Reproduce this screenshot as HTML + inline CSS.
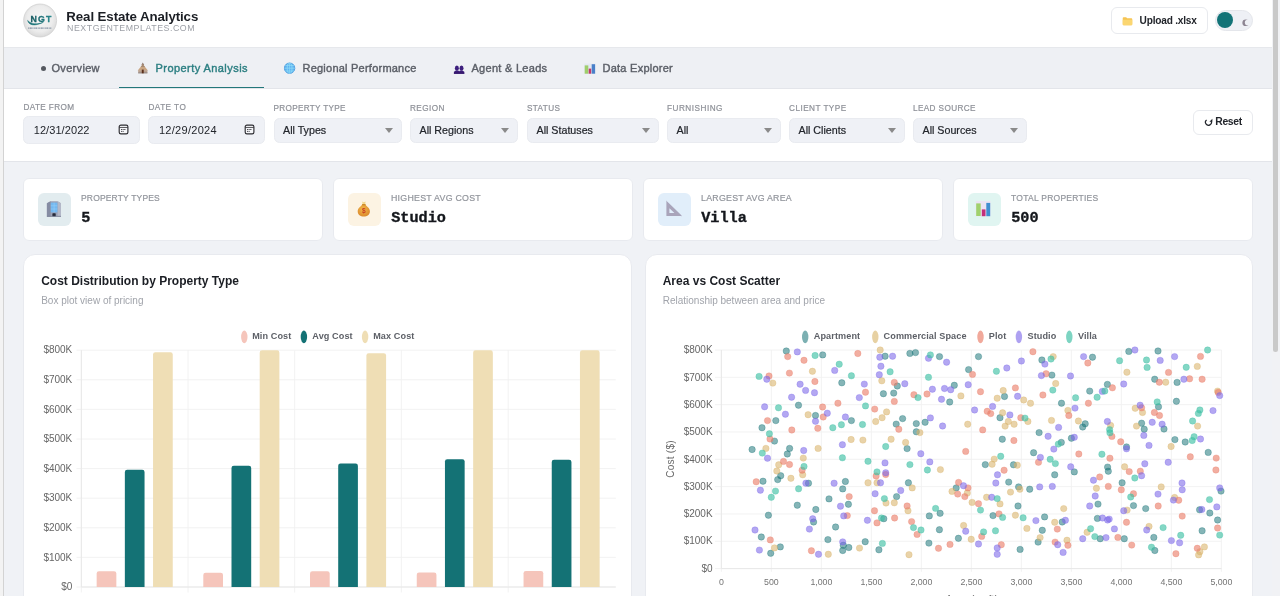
<!DOCTYPE html>
<html lang="en">
<head>
<meta charset="utf-8">
<title>Real Estate Analytics</title>
<style>
*{box-sizing:border-box;margin:0;padding:0}
html,body{width:1280px;height:596px;overflow:hidden}
body{font-family:"Liberation Sans",sans-serif;background:#f0f2f6;position:relative;color:#1b1e24}
#wrap{position:absolute;left:0;top:0;width:1280px;height:596px;overflow:hidden;will-change:transform;transform:translateZ(0)}
.abs{position:absolute}
#leftstrip{left:0;top:0;width:4px;height:596px;background:#f3f3f3;border-right:1px solid #d3d3d3}
#sb{left:1272px;top:0;width:8px;height:596px;background:#f1f2f5}
#sbthumb{left:1273px;top:-4px;width:4.5px;height:356px;background:#c9c9c9;border-radius:3px}
#header{left:4px;top:0;width:1268px;height:47.8px;background:#fff;border-bottom:1px solid #e6e8ec}
#nav{left:4px;top:47.8px;width:1268px;height:41.2px;background:#eef0f4;border-bottom:1px solid #e3e5ea}
#filters{left:4px;top:89px;width:1268px;height:72.6px;background:#fff;border-bottom:1px solid #e3e5ea}
.t{position:absolute;white-space:nowrap;line-height:1}
.title{left:66.3px;top:9.5px;font-size:13.3px;font-weight:bold;color:#1b1e24;letter-spacing:-0.1px}
.sub{left:67px;top:24.4px;font-size:8.8px;letter-spacing:0.55px;color:#9c9fa6}
.tab{font-size:11px;color:#5b5f67;-webkit-text-stroke:0.4px #5b5f67}
.tab.act{color:#2c7f82;-webkit-text-stroke:0.4px #2c7f82}
.lbl{font-size:8.2px;letter-spacing:0.52px;color:#8f9299;-webkit-text-stroke:0.2px #8f9299;margin-top:0.5px}
.inp{position:absolute;top:116.1px;height:27.9px;background:#eff1f6;border:1px solid #e9ebf0;border-radius:5.5px}
.inp span{position:absolute;left:9px;top:7.5px;font-size:10.7px;-webkit-text-stroke:0.2px #22252b;line-height:1;color:#22252b;white-space:nowrap}
.caret{position:absolute;right:8px;top:11px;width:0;height:0;border-left:4.5px solid transparent;border-right:4.5px solid transparent;border-top:5.5px solid #8a8a8a}
.kpi{position:absolute;top:177.9px;height:63.5px;background:#fff;border:1px solid #e8eaef;border-radius:6px}
.kico{position:absolute;left:13.8px;top:14.3px;width:33px;height:33px;border-radius:6px}
.klbl{position:absolute;left:56.8px;top:15px;font-size:8.8px;letter-spacing:0.36px;color:#92959c;line-height:1;white-space:nowrap;-webkit-text-stroke:0.2px #92959c}
.kval{position:absolute;left:57px;top:32px;transform:scaleY(1.02);transform-origin:0 50%;font-family:"Liberation Mono",monospace;font-weight:bold;font-size:15.2px;line-height:1;color:#14171c;white-space:nowrap;-webkit-text-stroke:0.35px #14171c}
.card{position:absolute;top:254.3px;height:360px;background:#fff;border:1px solid #e8eaef;border-radius:12px}
.ctitle{position:absolute;left:17px;top:19.3px;font-size:12px;font-weight:bold;line-height:1;color:#1b1e24;white-space:nowrap}
.csub{position:absolute;left:17px;top:41px;font-size:10px;line-height:1;color:#a1a4ab;white-space:nowrap}
svg text{font-family:"Liberation Sans",sans-serif}
</style>
</head>
<body>
<div id="wrap">
<div id="header" class="abs"></div>
<div id="nav" class="abs"></div>
<div id="filters" class="abs"></div>
<div id="leftstrip" class="abs"></div>
<div id="sb" class="abs"></div>
<div id="sbthumb" class="abs"></div>

<!-- HEADER -->
<svg class="abs" style="left:22px;top:2px" width="36" height="38" viewBox="0 0 36 38">
  <defs><radialGradient id="lg" cx="50%" cy="45%" r="55%"><stop offset="0" stop-color="#f6f6f6"/><stop offset="0.7" stop-color="#ececec"/><stop offset="1" stop-color="#d9d9d9"/></radialGradient>
  <linearGradient id="ng" x1="0" x2="1"><stop offset="0" stop-color="#15595f"/><stop offset="1" stop-color="#2a8b90"/></linearGradient></defs>
  <circle cx="18.1" cy="18.5" r="16.5" fill="url(#lg)" stroke="#cdcdcd" stroke-width="0.7"/>
  <text x="8.5" y="20.1" font-size="8.8" font-weight="bold" fill="url(#ng)" stroke="url(#ng)" stroke-width="0.3" letter-spacing="1.15">NGT</text>
  <path d="M5.6 18.4 C6.4 23 12.5 24.8 21.3 20.3 C15 22.6 9 22.4 5.6 18.4Z" fill="#1b7479" stroke="#1b7479" stroke-width="0.5"/>
  <path d="M6.2 26.2 H29.4" stroke="#3d5572" stroke-width="1.3" stroke-dasharray="1.1 0.5 2 0.6 0.8 0.5" opacity="0.6"/>
</svg>
<div class="t title">Real Estate Analytics</div>
<div class="t sub">NEXTGENTEMPLATES.COM</div>

<div class="abs" style="left:1110.5px;top:7.4px;width:97px;height:27.1px;border:1px solid #e8eaee;border-radius:6px;background:#fff"></div>
<svg class="abs" style="left:1121.5px;top:15.8px" width="11.2" height="10.3" viewBox="0 0 12 11"><path d="M0.8 2.2 Q0.8 1.2 1.8 1.2 H4.4 L5.6 2.5 H10 Q11 2.5 11 3.5 V8.8 Q11 9.8 10 9.8 H1.8 Q0.8 9.8 0.8 8.8Z" fill="#f6c453"/><path d="M0.8 4 H11 V8.8 Q11 9.8 10 9.8 H1.8 Q0.8 9.8 0.8 8.8Z" fill="#fbd671"/></svg>
<div class="t" style="left:1139.6px;top:15.6px;font-size:10.1px;font-weight:bold;color:#22252b;letter-spacing:-0.2px">Upload .xlsx</div>
<div class="abs" style="left:1214.5px;top:9.8px;width:38.3px;height:21.5px;border-radius:11px;background:#eef0f5;border:1px solid #e4e6eb"></div>
<div class="abs" style="left:1216.7px;top:11.8px;width:16.7px;height:16.7px;border-radius:50%;background:#127377"></div>
<svg class="abs" style="left:1240px;top:17px" width="12" height="12" viewBox="0 0 12 12"><circle cx="5.7" cy="5.75" r="3.35" fill="#8d8592"/><circle cx="7.7" cy="5.6" r="2.85" fill="#eef0f5"/></svg>

<!-- NAV -->
<div class="abs" style="left:40.8px;top:65.5px;width:5px;height:5px;border-radius:50%;background:#555960"></div>
<div class="t tab" style="left:51.5px;top:62.6px;letter-spacing:0.31px">Overview</div>
<div class="t tab act" style="left:155.5px;top:62.6px;letter-spacing:0.44px">Property Analysis</div>
<div class="t tab" style="left:302.5px;top:62.6px;letter-spacing:0.23px">Regional Performance</div>
<div class="t tab" style="left:471.5px;top:62.6px;letter-spacing:0.28px">Agent &amp; Leads</div>
<div class="t tab" style="left:602.5px;top:62.6px;letter-spacing:0.25px">Data Explorer</div>
<div class="abs" style="left:118.8px;top:86.6px;width:145.2px;height:1.6px;background:#22777a"></div>

<!-- FILTERS -->
<div class="t lbl" style="left:23.5px;top:103.5px;letter-spacing:0.36px">DATE FROM</div>
<div class="t lbl" style="left:148.5px;top:103.5px;letter-spacing:0.45px">DATE TO</div>
<div class="t lbl" style="left:273.5px;top:104.5px;letter-spacing:0.31px">PROPERTY TYPE</div>
<div class="t lbl" style="left:410px;top:104.5px;letter-spacing:0.44px">REGION</div>
<div class="t lbl" style="left:527px;top:104.5px;letter-spacing:0.38px">STATUS</div>
<div class="t lbl" style="left:667px;top:104.5px;letter-spacing:0.5px">FURNISHING</div>
<div class="t lbl" style="left:789px;top:104.5px;letter-spacing:0.47px">CLIENT TYPE</div>
<div class="t lbl" style="left:913px;top:104.5px;letter-spacing:0.38px">LEAD SOURCE</div>

<div class="inp" style="left:23.2px;width:116.8px"><span style="left:9.5px;letter-spacing:0.08px;font-size:11px;-webkit-text-stroke:0">12/31/2022</span></div>
<div class="inp" style="left:148.4px;width:116.8px"><span style="left:9.5px;letter-spacing:0.3px;font-size:11px;-webkit-text-stroke:0">12/29/2024</span></div>
<div class="inp" style="left:273.5px;top:117.8px;width:128px;height:24.9px"><span style="top:6.1px;left:8.5px">All Types</span><i class="caret" style="top:9.6px"></i></div>
<div class="inp" style="left:410px;top:117.8px;width:108px;height:24.9px"><span style="top:6.1px;left:8.5px">All Regions</span><i class="caret" style="top:9.6px"></i></div>
<div class="inp" style="left:527px;top:117.8px;width:132px;height:24.9px"><span style="top:6.1px;left:8.5px">All Statuses</span><i class="caret" style="top:9.6px"></i></div>
<div class="inp" style="left:667px;top:117.8px;width:113.5px;height:24.9px"><span style="top:6.1px;left:8.5px">All</span><i class="caret" style="top:9.6px"></i></div>
<div class="inp" style="left:789px;top:117.8px;width:116px;height:24.9px"><span style="top:6.1px;left:8.5px">All Clients</span><i class="caret" style="top:9.6px"></i></div>
<div class="inp" style="left:913px;top:117.8px;width:114px;height:24.9px"><span style="top:6.1px;left:8.5px">All Sources</span><i class="caret" style="top:9.6px"></i></div>

<div class="abs" style="left:1193px;top:110px;width:59.5px;height:24.5px;border:1px solid #e8eaee;border-radius:6px;background:#fff"></div>
<svg class="abs" style="left:1204px;top:118px" width="10" height="9" viewBox="0 0 10 9"><path d="M2.6 1.9 A3 3 0 1 0 7.2 3" fill="none" stroke="#22252b" stroke-width="1.25"/><path d="M8.4 0.8 V3.7 H5.4Z" fill="#22252b"/></svg>
<div class="t" style="left:1215.2px;top:116.7px;font-size:10.4px;font-weight:bold;color:#22252b;letter-spacing:-0.3px">Reset</div>

<!-- KPI -->
<div class="kpi" style="left:23.2px;width:299.8px"><div class="kico" style="background:#e2ecef"></div><div class="klbl" style="font-size:8.5px;letter-spacing:0.17px;top:15.2px">PROPERTY TYPES</div><div class="kval">5</div></div>
<div class="kpi" style="left:333.2px;width:299.8px"><div class="kico" style="background:#fcf3e3"></div><div class="klbl" style="letter-spacing:0.27px">HIGHEST AVG COST</div><div class="kval">Studio</div></div>
<div class="kpi" style="left:643.2px;width:299.8px"><div class="kico" style="background:#e1eefa"></div><div class="klbl" style="letter-spacing:0.27px">LARGEST AVG AREA</div><div class="kval">Villa</div></div>
<div class="kpi" style="left:953.2px;width:299.8px"><div class="kico" style="background:#e0f5f1"></div><div class="klbl" style="font-size:8.5px;letter-spacing:0.26px;top:15.2px">TOTAL PROPERTIES</div><div class="kval">500</div></div>

<!-- CARDS -->
<div class="card" style="left:23.2px;width:608.7px"><div class="ctitle">Cost Distribution by Property Type</div><div class="csub">Box plot view of pricing</div></div>
<div class="card" style="left:644.7px;width:608.4px"><div class="ctitle">Area vs Cost Scatter</div><div class="csub">Relationship between area and price</div></div>


<!-- NAV ICONS -->
<svg class="abs" style="left:137px;top:62px" width="12" height="12" viewBox="0 0 12 12">
  <path d="M5.8 0.6 L7.2 3 L4.4 3Z" fill="#8b7468"/>
  <path d="M5.8 2.2 L10.9 8.6 L0.7 8.6Z" fill="#c9a582"/>
  <path d="M5.8 2.2 L8 5 L3.6 5Z" fill="#a58970"/>
  <rect x="1.2" y="8.2" width="9.2" height="3.1" fill="#b9a08e"/>
  <rect x="1.2" y="10.4" width="9.2" height="0.9" fill="#8f8a8c"/>
  <rect x="4.8" y="7.6" width="1.9" height="3.7" fill="#5b2f1c"/>
</svg>
<svg class="abs" style="left:283px;top:62.2px" width="13" height="13" viewBox="0 0 13 13">
  <circle cx="6.6" cy="6.2" r="5.5" fill="#5fb3f2"/>
  <circle cx="6.6" cy="6.2" r="5.2" fill="none" stroke="#4b93d6" stroke-width="0.7"/>
  <ellipse cx="6.6" cy="6.2" rx="2.4" ry="5.2" fill="none" stroke="#93e0f6" stroke-width="0.7"/>
  <path d="M1.3 6.2 H11.9 M2.2 3.4 H11 M2.2 9 H11" stroke="#93e0f6" stroke-width="0.7" fill="none"/>
  <path d="M6.6 1 V11.4" stroke="#93e0f6" stroke-width="0.6"/>
</svg>
<svg class="abs" style="left:453px;top:64px" width="12" height="11" viewBox="0 0 12 11">
  <ellipse cx="3.9" cy="4.2" rx="2" ry="2.6" fill="#3d1f7d"/><ellipse cx="8.5" cy="4.2" rx="2" ry="2.6" fill="#3d1f7d"/>
  <path d="M0.9 9.8 Q0.9 6.4 3.9 6.4 Q6.2 6.4 6.2 7.6 Q6.2 6.4 8.5 6.4 Q11.3 6.4 11.3 9.8Z" fill="#3d1f7d"/>
  <rect x="0.9" y="7.7" width="10.4" height="2.1" fill="#37196f"/>
</svg>
<svg class="abs" style="left:584px;top:62.5px" width="12" height="12" viewBox="0 0 12 12">
  <rect x="0.3" y="0.6" width="11.2" height="10.4" fill="#e4e8f2"/>
  <rect x="0.7" y="2.4" width="3.6" height="8.3" fill="#9fce6c"/>
  <rect x="4.7" y="5.6" width="2.5" height="5.1" fill="#c23a6c"/>
  <rect x="7.7" y="1.2" width="3.4" height="9.5" fill="#4a80c9"/>
</svg>
<!-- CALENDAR ICONS -->
<svg class="abs" style="left:118.1px;top:124.1px" width="11" height="11" viewBox="0 0 11 11">
  <rect x="1.2" y="1.15" width="8.7" height="8.7" rx="1.7" fill="#f5f6f9" stroke="#2c2c31" stroke-width="1.15"/>
  <path d="M1.3 3.45 H9.8" stroke="#2c2c31" stroke-width="0.8"/>
  <path d="M3 5.5 H8 M3 7.4 H6.2" stroke="#4a4a50" stroke-width="1" stroke-dasharray="1.1 0.5"/>
</svg>
<svg class="abs" style="left:243.6px;top:124.1px" width="11" height="11" viewBox="0 0 11 11">
  <rect x="1.2" y="1.15" width="8.7" height="8.7" rx="1.7" fill="#f5f6f9" stroke="#2c2c31" stroke-width="1.15"/>
  <path d="M1.3 3.45 H9.8" stroke="#2c2c31" stroke-width="0.8"/>
  <path d="M3 5.5 H8 M3 7.4 H6.2" stroke="#4a4a50" stroke-width="1" stroke-dasharray="1.1 0.5"/>
</svg>
<!-- KPI ICONS -->
<svg class="abs" style="left:46px;top:200px" width="16" height="18" viewBox="0 0 16 18">
  <path d="M0.9 3.2 L4.6 1.2 L11.6 1.2 L15 3.2 V16.5 H0.9Z" fill="#9aa1b6"/>
  <path d="M0.9 3.2 L4.6 1.2 V16.5 H0.9Z" fill="#858ca3"/>
  <path d="M11.6 1.2 L15 3.2 V16.5 H11.6Z" fill="#b3b8c8"/>
  <rect x="4.8" y="2.6" width="6.6" height="9.8" fill="#73b8f0"/>
  <path d="M8.1 2.6 V12.4 M4.8 5.8 H11.4 M4.8 9 H11.4" stroke="#9ad0f8" stroke-width="0.5"/>
  <rect x="6.4" y="13.3" width="3.3" height="3.2" rx="0.6" fill="#252a3a"/>
  <rect x="0.9" y="15.9" width="14.1" height="0.8" fill="#7a8096"/>
</svg>
<svg class="abs" style="left:356px;top:200px" width="16" height="18" viewBox="0 0 16 18">
  <defs><radialGradient id="bag" cx="45%" cy="40%" r="65%"><stop offset="0" stop-color="#f3b94a"/><stop offset="1" stop-color="#d9862a"/></radialGradient></defs>
  <path d="M6.2 1.6 L7.8 2.3 L9.6 1.6 L9.2 4.6 H6.6Z" fill="#f2d88c"/>
  <path d="M6.2 4.2 C6.2 5.8 1.7 7.4 1.7 11.2 C1.7 14.6 4.4 16.5 7.8 16.5 C11.2 16.5 13.9 14.6 13.9 11.2 C13.9 7.4 9.4 5.8 9.4 4.2Z" fill="url(#bag)"/>
  <rect x="6.2" y="4" width="3.2" height="1.3" fill="#c98b2e"/>
  <text x="7.85" y="13.3" text-anchor="middle" font-size="6.6" font-weight="bold" fill="#c63a22">$</text>
</svg>
<svg class="abs" style="left:665px;top:200px" width="18" height="18" viewBox="0 0 18 18">
  <path d="M1.4 1.2 L16.6 15.9 H1.4Z M4.4 8.2 V13 H9.4Z" fill="#a9a4ba" fill-rule="evenodd"/>
  <path d="M1.4 1.2 L16.6 15.9" stroke="#958fa8" stroke-width="0.6"/>
</svg>
<svg class="abs" style="left:975px;top:199.5px" width="17" height="18" viewBox="0 0 17 18">
  <rect x="0.7" y="0.9" width="14.8" height="15.4" fill="#eae4f3"/>
  <rect x="1.2" y="3.4" width="4.5" height="12.6" fill="#a0d16d"/>
  <rect x="6.8" y="9.4" width="3.7" height="6.8" fill="#c22f7a"/>
  <rect x="11.3" y="2.9" width="3.9" height="13.3" fill="#3f8fd0"/>
</svg>

<!--BARCHART-->
<svg class="abs" style="left:0;top:0" width="1280" height="596" viewBox="0 0 1280 596">
<path d="M76.5 587.00H615.8 M76.5 557.40H615.8 M76.5 527.80H615.8 M76.5 498.20H615.8 M76.5 468.60H615.8 M76.5 439.00H615.8 M76.5 409.40H615.8 M76.5 379.80H615.8 M76.5 350.20H615.8 M81.40 350.3V592.5 M188.00 350.3V592.5 M294.70 350.3V592.5 M401.40 350.3V592.5 M508.20 350.3V592.5" stroke="#f0f0f0" stroke-width="0.9" fill="none"/>
<path d="M81.4 350.2V587.0M81.4 587.0H615.8" stroke="#e6e6e6" stroke-width="0.9" fill="none"/>
<text x="72.3" y="590.20" text-anchor="end" font-size="10" fill="#666">$0</text>
<text x="72.3" y="560.60" text-anchor="end" font-size="10" fill="#666">$100K</text>
<text x="72.3" y="531.00" text-anchor="end" font-size="10" fill="#666">$200K</text>
<text x="72.3" y="501.40" text-anchor="end" font-size="10" fill="#666">$300K</text>
<text x="72.3" y="471.80" text-anchor="end" font-size="10" fill="#666">$400K</text>
<text x="72.3" y="442.20" text-anchor="end" font-size="10" fill="#666">$500K</text>
<text x="72.3" y="412.60" text-anchor="end" font-size="10" fill="#666">$600K</text>
<text x="72.3" y="383.00" text-anchor="end" font-size="10" fill="#666">$700K</text>
<text x="72.3" y="353.40" text-anchor="end" font-size="10" fill="#666">$800K</text>
<path d="M96.65 587.00V573.61Q96.65 571.31 98.95 571.31H114.05Q116.35 571.31 116.35 573.61V587.00Z" fill="#f5c5bb"/>
<path d="M124.85 587.00V472.08Q124.85 469.78 127.15 469.78H142.25Q144.55 469.78 144.55 472.08V587.00Z" fill="#147275"/>
<path d="M153.05 587.00V354.57Q153.05 352.27 155.35 352.27H170.45Q172.75 352.27 172.75 354.57V587.00Z" fill="#efdeb5"/>
<path d="M203.30 587.00V575.09Q203.30 572.79 205.60 572.79H220.70Q223.00 572.79 223.00 575.09V587.00Z" fill="#f5c5bb"/>
<path d="M231.50 587.00V468.09Q231.50 465.79 233.80 465.79H248.90Q251.20 465.79 251.20 468.09V587.00Z" fill="#147275"/>
<path d="M259.70 587.00V352.65Q259.70 350.35 262.00 350.35H277.10Q279.40 350.35 279.40 352.65V587.00Z" fill="#efdeb5"/>
<path d="M310.00 587.00V573.61Q310.00 571.31 312.30 571.31H327.40Q329.70 571.31 329.70 573.61V587.00Z" fill="#f5c5bb"/>
<path d="M338.20 587.00V465.87Q338.20 463.57 340.50 463.57H355.60Q357.90 463.57 357.90 465.87V587.00Z" fill="#147275"/>
<path d="M366.40 587.00V355.46Q366.40 353.16 368.70 353.16H383.80Q386.10 353.16 386.10 355.46V587.00Z" fill="#efdeb5"/>
<path d="M416.75 587.00V574.80Q416.75 572.50 419.05 572.50H434.15Q436.45 572.50 436.45 574.80V587.00Z" fill="#f5c5bb"/>
<path d="M444.95 587.00V461.43Q444.95 459.13 447.25 459.13H462.35Q464.65 459.13 464.65 461.43V587.00Z" fill="#147275"/>
<path d="M473.15 587.00V352.65Q473.15 350.35 475.45 350.35H490.55Q492.85 350.35 492.85 352.65V587.00Z" fill="#efdeb5"/>
<path d="M523.55 587.00V573.32Q523.55 571.02 525.85 571.02H540.95Q543.25 571.02 543.25 573.32V587.00Z" fill="#f5c5bb"/>
<path d="M551.75 587.00V462.02Q551.75 459.72 554.05 459.72H569.15Q571.45 459.72 571.45 462.02V587.00Z" fill="#147275"/>
<path d="M579.95 587.00V352.65Q579.95 350.35 582.25 350.35H597.35Q599.65 350.35 599.65 352.65V587.00Z" fill="#efdeb5"/>
<ellipse cx="244.29999999999998" cy="336.9" rx="3.2" ry="6.3" fill="#f5c5bb"/>
<ellipse cx="303.90000000000003" cy="336.9" rx="3.2" ry="6.3" fill="#147275"/>
<ellipse cx="365.1" cy="336.9" rx="3.2" ry="6.3" fill="#efdeb5"/>
<text x="252.2" y="339.2" font-size="9.1" font-weight="bold" fill="#5d6067" letter-spacing="0.1">Min Cost</text>
<text x="312.3" y="339.2" font-size="9.1" font-weight="bold" fill="#5d6067" letter-spacing="0.1">Avg Cost</text>
<text x="373.2" y="339.2" font-size="9.1" font-weight="bold" fill="#5d6067" letter-spacing="0.1">Max Cost</text>
</svg>
<!--/BARCHART-->
<!--SCATTER-->
<svg class="abs" style="left:0;top:0" width="1280" height="596" viewBox="0 0 1280 596">
<path d="M715 568.60H1221.5 M715 541.27H1221.5 M715 513.95H1221.5 M715 486.62H1221.5 M715 459.30H1221.5 M715 431.98H1221.5 M715 404.65H1221.5 M715 377.32H1221.5 M715 350.00H1221.5 M721.40 350V571.8 M771.40 350V571.8 M821.40 350V571.8 M871.40 350V571.8 M921.40 350V571.8 M971.40 350V571.8 M1021.40 350V571.8 M1071.40 350V571.8 M1121.40 350V571.8 M1171.40 350V571.8 M1221.40 350V571.8" stroke="#f0f0f0" stroke-width="0.9" fill="none"/>
<path d="M721.4 350V568.60M721.4 568.60H1221.5" stroke="#e6e6e6" stroke-width="0.9" fill="none"/>
<text x="712.6" y="571.80" text-anchor="end" font-size="10" fill="#666">$0</text>
<text x="712.6" y="544.48" text-anchor="end" font-size="10" fill="#666">$100K</text>
<text x="712.6" y="517.15" text-anchor="end" font-size="10" fill="#666">$200K</text>
<text x="712.6" y="489.82" text-anchor="end" font-size="10" fill="#666">$300K</text>
<text x="712.6" y="462.50" text-anchor="end" font-size="10" fill="#666">$400K</text>
<text x="712.6" y="435.18" text-anchor="end" font-size="10" fill="#666">$500K</text>
<text x="712.6" y="407.85" text-anchor="end" font-size="10" fill="#666">$600K</text>
<text x="712.6" y="380.52" text-anchor="end" font-size="10" fill="#666">$700K</text>
<text x="712.6" y="353.20" text-anchor="end" font-size="10" fill="#666">$800K</text>
<text x="721.4" y="585.4" text-anchor="middle" font-size="8.8" fill="#747474">0</text>
<text x="771.4" y="585.4" text-anchor="middle" font-size="8.8" fill="#747474">500</text>
<text x="821.4" y="585.4" text-anchor="middle" font-size="8.8" fill="#747474">1,000</text>
<text x="871.4" y="585.4" text-anchor="middle" font-size="8.8" fill="#747474">1,500</text>
<text x="921.4" y="585.4" text-anchor="middle" font-size="8.8" fill="#747474">2,000</text>
<text x="971.4" y="585.4" text-anchor="middle" font-size="8.8" fill="#747474">2,500</text>
<text x="1021.4" y="585.4" text-anchor="middle" font-size="8.8" fill="#747474">3,000</text>
<text x="1071.4" y="585.4" text-anchor="middle" font-size="8.8" fill="#747474">3,500</text>
<text x="1121.4" y="585.4" text-anchor="middle" font-size="8.8" fill="#747474">4,000</text>
<text x="1171.4" y="585.4" text-anchor="middle" font-size="8.8" fill="#747474">4,500</text>
<text x="1221.4" y="585.4" text-anchor="middle" font-size="8.8" fill="#747474">5,000</text>
<text transform="translate(674.4 459) rotate(-90)" text-anchor="middle" font-size="10" fill="#6b6b6b" letter-spacing="0.25">Cost ($)</text>
<text x="972" y="602.7" text-anchor="middle" font-size="10" fill="#6b6b6b" letter-spacing="0.25">Area (sq ft)</text>
<g fill="#157275" fill-opacity="0.52" stroke="#157275" stroke-opacity="0.45" stroke-width="0.7">
<circle cx="786.3" cy="351.0" r="3.2"/><circle cx="822.7" cy="354.9" r="3.2"/><circle cx="885.1" cy="356.2" r="3.2"/><circle cx="841.8" cy="382.8" r="3.2"/><circle cx="897.3" cy="386.0" r="3.2"/><circle cx="883.4" cy="393.7" r="3.2"/><circle cx="893.7" cy="393.1" r="3.2"/><circle cx="798.5" cy="405.2" r="3.2"/><circle cx="815.5" cy="415.5" r="3.2"/><circle cx="909.9" cy="353.4" r="3.2"/><circle cx="915.5" cy="352.6" r="3.2"/><circle cx="939.5" cy="356.6" r="3.2"/><circle cx="978.5" cy="356.6" r="3.2"/><circle cx="1041.9" cy="360.0" r="3.2"/><circle cx="968.6" cy="369.6" r="3.2"/><circle cx="1051.9" cy="375.1" r="3.2"/><circle cx="1004.5" cy="396.5" r="3.2"/><circle cx="954.3" cy="385.3" r="3.2"/><circle cx="949.7" cy="402.0" r="3.2"/><circle cx="1061.5" cy="403.2" r="3.2"/><circle cx="1000.0" cy="417.7" r="3.2"/><circle cx="902.6" cy="418.6" r="3.2"/><circle cx="1092.5" cy="357.2" r="3.2"/><circle cx="1128.8" cy="351.4" r="3.2"/><circle cx="1158.0" cy="351.0" r="3.2"/><circle cx="1154.7" cy="379.2" r="3.2"/><circle cx="1177.1" cy="382.4" r="3.2"/><circle cx="1107.4" cy="384.4" r="3.2"/><circle cx="1089.7" cy="391.1" r="3.2"/><circle cx="1158.5" cy="406.8" r="3.2"/><circle cx="1176.4" cy="401.3" r="3.2"/><circle cx="775.8" cy="420.6" r="3.2"/><circle cx="851.4" cy="420.6" r="3.2"/><circle cx="762.0" cy="427.7" r="3.2"/><circle cx="896.2" cy="424.1" r="3.2"/><circle cx="774.5" cy="441.1" r="3.2"/><circle cx="752.1" cy="449.5" r="3.2"/><circle cx="789.6" cy="448.4" r="3.2"/><circle cx="787.3" cy="454.0" r="3.2"/><circle cx="780.7" cy="475.7" r="3.2"/><circle cx="777.7" cy="479.6" r="3.2"/><circle cx="763.0" cy="481.2" r="3.2"/><circle cx="808.5" cy="483.2" r="3.2"/><circle cx="845.4" cy="481.5" r="3.2"/><circle cx="842.7" cy="488.9" r="3.2"/><circle cx="925.1" cy="422.3" r="3.2"/><circle cx="916.3" cy="423.6" r="3.2"/><circle cx="916.3" cy="431.8" r="3.2"/><circle cx="1039.1" cy="432.6" r="3.2"/><circle cx="1002.3" cy="439.2" r="3.2"/><circle cx="907.1" cy="448.6" r="3.2"/><circle cx="1061.3" cy="442.4" r="3.2"/><circle cx="1033.6" cy="452.7" r="3.2"/><circle cx="985.3" cy="464.6" r="3.2"/><circle cx="1013.5" cy="464.8" r="3.2"/><circle cx="1054.7" cy="474.8" r="3.2"/><circle cx="908.4" cy="482.8" r="3.2"/><circle cx="1008.7" cy="482.1" r="3.2"/><circle cx="1018.6" cy="486.9" r="3.2"/><circle cx="1029.7" cy="489.2" r="3.2"/><circle cx="956.2" cy="487.9" r="3.2"/><circle cx="1085.2" cy="423.8" r="3.2"/><circle cx="1082.7" cy="427.0" r="3.2"/><circle cx="1141.6" cy="423.2" r="3.2"/><circle cx="1144.2" cy="429.2" r="3.2"/><circle cx="1164.0" cy="429.0" r="3.2"/><circle cx="1071.4" cy="438.2" r="3.2"/><circle cx="1126.5" cy="446.9" r="3.2"/><circle cx="1174.9" cy="439.6" r="3.2"/><circle cx="1185.2" cy="442.0" r="3.2"/><circle cx="1208.2" cy="452.4" r="3.2"/><circle cx="1074.3" cy="471.9" r="3.2"/><circle cx="1107.6" cy="467.1" r="3.2"/><circle cx="1108.3" cy="471.2" r="3.2"/><circle cx="1122.1" cy="482.8" r="3.2"/><circle cx="1221.0" cy="491.1" r="3.2"/><circle cx="829.0" cy="498.9" r="3.2"/><circle cx="896.6" cy="496.6" r="3.2"/><circle cx="797.3" cy="505.2" r="3.2"/><circle cx="815.8" cy="509.5" r="3.2"/><circle cx="848.4" cy="504.3" r="3.2"/><circle cx="768.4" cy="515.2" r="3.2"/><circle cx="813.6" cy="522.0" r="3.2"/><circle cx="883.8" cy="518.7" r="3.2"/><circle cx="835.6" cy="527.0" r="3.2"/><circle cx="761.3" cy="537.0" r="3.2"/><circle cx="827.9" cy="539.6" r="3.2"/><circle cx="843.3" cy="545.3" r="3.2"/><circle cx="848.8" cy="547.5" r="3.2"/><circle cx="842.7" cy="550.5" r="3.2"/><circle cx="865.2" cy="541.7" r="3.2"/><circle cx="878.9" cy="549.8" r="3.2"/><circle cx="780.3" cy="546.9" r="3.2"/><circle cx="770.7" cy="553.3" r="3.2"/><circle cx="940.1" cy="513.3" r="3.2"/><circle cx="929.3" cy="515.9" r="3.2"/><circle cx="1018.0" cy="506.0" r="3.2"/><circle cx="993.0" cy="515.6" r="3.2"/><circle cx="1044.6" cy="516.9" r="3.2"/><circle cx="1062.2" cy="522.0" r="3.2"/><circle cx="939.4" cy="529.7" r="3.2"/><circle cx="1042.3" cy="530.3" r="3.2"/><circle cx="1038.1" cy="542.1" r="3.2"/><circle cx="958.4" cy="538.3" r="3.2"/><circle cx="928.9" cy="543.1" r="3.2"/><circle cx="1020.1" cy="549.4" r="3.2"/><circle cx="1098.0" cy="504.1" r="3.2"/><circle cx="1133.5" cy="505.6" r="3.2"/><circle cx="1145.7" cy="508.6" r="3.2"/><circle cx="1199.6" cy="509.8" r="3.2"/><circle cx="1209.8" cy="513.0" r="3.2"/><circle cx="1217.6" cy="520.0" r="3.2"/><circle cx="1097.4" cy="518.4" r="3.2"/><circle cx="1202.1" cy="530.8" r="3.2"/><circle cx="1100.2" cy="538.7" r="3.2"/><circle cx="1124.3" cy="538.7" r="3.2"/><circle cx="1153.8" cy="537.4" r="3.2"/><circle cx="1154.8" cy="550.5" r="3.2"/>
</g>
<g fill="#d9b46a" fill-opacity="0.58" stroke="#d9b46a" stroke-opacity="0.45" stroke-width="0.7">
<circle cx="880.2" cy="350.0" r="3.2"/><circle cx="812.4" cy="371.3" r="3.2"/><circle cx="772.8" cy="383.1" r="3.2"/><circle cx="881.8" cy="380.8" r="3.2"/><circle cx="808.1" cy="414.7" r="3.2"/><circle cx="886.6" cy="411.9" r="3.2"/><circle cx="882.1" cy="417.7" r="3.2"/><circle cx="1053.2" cy="356.6" r="3.2"/><circle cx="1055.7" cy="383.5" r="3.2"/><circle cx="1003.2" cy="390.5" r="3.2"/><circle cx="997.2" cy="398.2" r="3.2"/><circle cx="1023.7" cy="400.0" r="3.2"/><circle cx="1030.5" cy="403.3" r="3.2"/><circle cx="960.9" cy="395.9" r="3.2"/><circle cx="1002.6" cy="412.8" r="3.2"/><circle cx="1126.9" cy="372.2" r="3.2"/><circle cx="1197.3" cy="366.4" r="3.2"/><circle cx="1165.7" cy="382.2" r="3.2"/><circle cx="1217.6" cy="391.1" r="3.2"/><circle cx="1067.9" cy="410.4" r="3.2"/><circle cx="1135.2" cy="408.3" r="3.2"/><circle cx="1142.5" cy="412.5" r="3.2"/><circle cx="875.7" cy="421.5" r="3.2"/><circle cx="851.1" cy="439.5" r="3.2"/><circle cx="862.9" cy="440.1" r="3.2"/><circle cx="891.1" cy="439.2" r="3.2"/><circle cx="765.9" cy="448.4" r="3.2"/><circle cx="818.1" cy="448.4" r="3.2"/><circle cx="803.3" cy="458.1" r="3.2"/><circle cx="778.7" cy="464.8" r="3.2"/><circle cx="776.8" cy="471.0" r="3.2"/><circle cx="802.7" cy="474.8" r="3.2"/><circle cx="790.9" cy="478.3" r="3.2"/><circle cx="868.0" cy="482.8" r="3.2"/><circle cx="877.0" cy="482.8" r="3.2"/><circle cx="1008.3" cy="421.5" r="3.2"/><circle cx="1005.1" cy="426.1" r="3.2"/><circle cx="1014.1" cy="424.2" r="3.2"/><circle cx="1027.9" cy="421.5" r="3.2"/><circle cx="1051.5" cy="420.4" r="3.2"/><circle cx="967.7" cy="424.2" r="3.2"/><circle cx="919.9" cy="432.6" r="3.2"/><circle cx="905.6" cy="442.4" r="3.2"/><circle cx="994.2" cy="459.1" r="3.2"/><circle cx="992.1" cy="464.2" r="3.2"/><circle cx="1017.3" cy="465.2" r="3.2"/><circle cx="940.4" cy="469.6" r="3.2"/><circle cx="912.2" cy="487.9" r="3.2"/><circle cx="1019.9" cy="489.2" r="3.2"/><circle cx="1010.5" cy="492.1" r="3.2"/><circle cx="952.0" cy="491.4" r="3.2"/><circle cx="967.3" cy="493.0" r="3.2"/><circle cx="1078.4" cy="421.0" r="3.2"/><circle cx="1110.6" cy="425.4" r="3.2"/><circle cx="1136.5" cy="426.1" r="3.2"/><circle cx="1197.6" cy="426.1" r="3.2"/><circle cx="1171.1" cy="446.5" r="3.2"/><circle cx="1124.6" cy="466.8" r="3.2"/><circle cx="1096.4" cy="488.3" r="3.2"/><circle cx="1161.2" cy="486.9" r="3.2"/><circle cx="886.0" cy="503.0" r="3.2"/><circle cx="894.3" cy="502.8" r="3.2"/><circle cx="859.5" cy="548.1" r="3.2"/><circle cx="774.5" cy="547.9" r="3.2"/><circle cx="828.3" cy="554.3" r="3.2"/><circle cx="986.6" cy="497.3" r="3.2"/><circle cx="972.1" cy="502.4" r="3.2"/><circle cx="1000.0" cy="503.9" r="3.2"/><circle cx="908.0" cy="510.7" r="3.2"/><circle cx="1015.4" cy="515.2" r="3.2"/><circle cx="1063.7" cy="508.6" r="3.2"/><circle cx="1054.7" cy="522.3" r="3.2"/><circle cx="963.6" cy="525.5" r="3.2"/><circle cx="1026.9" cy="528.4" r="3.2"/><circle cx="1040.1" cy="537.6" r="3.2"/><circle cx="971.2" cy="539.3" r="3.2"/><circle cx="909.0" cy="554.7" r="3.2"/><circle cx="1174.6" cy="497.5" r="3.2"/><circle cx="1127.1" cy="510.1" r="3.2"/><circle cx="1087.1" cy="532.3" r="3.2"/><circle cx="1149.0" cy="526.4" r="3.2"/><circle cx="1067.0" cy="540.2" r="3.2"/><circle cx="1204.4" cy="546.9" r="3.2"/><circle cx="1199.9" cy="551.7" r="3.2"/><circle cx="1198.6" cy="554.9" r="3.2"/>
</g>
<g fill="#ea806c" fill-opacity="0.64" stroke="#ea806c" stroke-opacity="0.45" stroke-width="0.7">
<circle cx="787.7" cy="356.6" r="3.2"/><circle cx="804.0" cy="360.3" r="3.2"/><circle cx="857.8" cy="353.5" r="3.2"/><circle cx="789.4" cy="373.1" r="3.2"/><circle cx="769.0" cy="376.0" r="3.2"/><circle cx="814.9" cy="381.5" r="3.2"/><circle cx="865.5" cy="392.2" r="3.2"/><circle cx="894.3" cy="382.4" r="3.2"/><circle cx="894.3" cy="401.4" r="3.2"/><circle cx="837.9" cy="403.2" r="3.2"/><circle cx="822.6" cy="407.0" r="3.2"/><circle cx="823.2" cy="417.0" r="3.2"/><circle cx="874.7" cy="409.1" r="3.2"/><circle cx="1032.9" cy="351.7" r="3.2"/><circle cx="972.5" cy="374.4" r="3.2"/><circle cx="1046.1" cy="373.7" r="3.2"/><circle cx="1042.9" cy="395.0" r="3.2"/><circle cx="1015.4" cy="387.9" r="3.2"/><circle cx="980.5" cy="391.7" r="3.2"/><circle cx="927.0" cy="394.0" r="3.2"/><circle cx="913.9" cy="394.7" r="3.2"/><circle cx="987.2" cy="411.3" r="3.2"/><circle cx="990.7" cy="413.6" r="3.2"/><circle cx="1020.8" cy="417.7" r="3.2"/><circle cx="1087.8" cy="363.0" r="3.2"/><circle cx="1168.5" cy="372.4" r="3.2"/><circle cx="1200.5" cy="356.4" r="3.2"/><circle cx="1159.3" cy="382.2" r="3.2"/><circle cx="1189.6" cy="378.8" r="3.2"/><circle cx="1202.1" cy="379.2" r="3.2"/><circle cx="1218.2" cy="392.4" r="3.2"/><circle cx="1112.4" cy="387.8" r="3.2"/><circle cx="1088.4" cy="403.2" r="3.2"/><circle cx="1068.8" cy="415.5" r="3.2"/><circle cx="1141.6" cy="407.8" r="3.2"/><circle cx="1154.4" cy="412.5" r="3.2"/><circle cx="1159.5" cy="415.5" r="3.2"/><circle cx="767.5" cy="420.6" r="3.2"/><circle cx="791.8" cy="430.0" r="3.2"/><circle cx="817.8" cy="428.3" r="3.2"/><circle cx="898.8" cy="429.2" r="3.2"/><circle cx="770.0" cy="439.0" r="3.2"/><circle cx="783.5" cy="461.4" r="3.2"/><circle cx="789.5" cy="464.5" r="3.2"/><circle cx="802.1" cy="470.2" r="3.2"/><circle cx="756.2" cy="481.8" r="3.2"/><circle cx="876.1" cy="476.0" r="3.2"/><circle cx="885.7" cy="474.5" r="3.2"/><circle cx="982.7" cy="429.9" r="3.2"/><circle cx="1013.9" cy="440.5" r="3.2"/><circle cx="965.7" cy="451.4" r="3.2"/><circle cx="1038.5" cy="462.3" r="3.2"/><circle cx="1004.1" cy="470.2" r="3.2"/><circle cx="958.6" cy="482.4" r="3.2"/><circle cx="968.0" cy="487.9" r="3.2"/><circle cx="957.7" cy="494.1" r="3.2"/><circle cx="1111.9" cy="436.4" r="3.2"/><circle cx="1120.7" cy="441.8" r="3.2"/><circle cx="1078.8" cy="454.0" r="3.2"/><circle cx="1109.9" cy="458.2" r="3.2"/><circle cx="1190.3" cy="456.8" r="3.2"/><circle cx="1216.2" cy="458.1" r="3.2"/><circle cx="1215.9" cy="470.0" r="3.2"/><circle cx="1129.2" cy="471.6" r="3.2"/><circle cx="1140.3" cy="471.2" r="3.2"/><circle cx="1099.7" cy="477.0" r="3.2"/><circle cx="1108.3" cy="486.4" r="3.2"/><circle cx="1121.3" cy="489.8" r="3.2"/><circle cx="1133.5" cy="493.7" r="3.2"/><circle cx="849.2" cy="496.6" r="3.2"/><circle cx="874.5" cy="510.7" r="3.2"/><circle cx="847.3" cy="515.6" r="3.2"/><circle cx="877.0" cy="522.9" r="3.2"/><circle cx="894.6" cy="518.0" r="3.2"/><circle cx="770.3" cy="539.9" r="3.2"/><circle cx="811.4" cy="550.7" r="3.2"/><circle cx="964.8" cy="496.6" r="3.2"/><circle cx="978.5" cy="503.7" r="3.2"/><circle cx="907.1" cy="506.0" r="3.2"/><circle cx="999.0" cy="513.9" r="3.2"/><circle cx="911.6" cy="521.6" r="3.2"/><circle cx="917.1" cy="534.4" r="3.2"/><circle cx="981.7" cy="536.4" r="3.2"/><circle cx="1057.3" cy="529.1" r="3.2"/><circle cx="950.0" cy="544.4" r="3.2"/><circle cx="938.5" cy="548.3" r="3.2"/><circle cx="1001.3" cy="544.7" r="3.2"/><circle cx="1055.1" cy="542.1" r="3.2"/><circle cx="1178.7" cy="500.2" r="3.2"/><circle cx="1158.2" cy="506.0" r="3.2"/><circle cx="1182.2" cy="516.1" r="3.2"/><circle cx="1217.6" cy="528.0" r="3.2"/><circle cx="1126.5" cy="522.3" r="3.2"/><circle cx="1117.9" cy="537.4" r="3.2"/><circle cx="1067.9" cy="545.3" r="3.2"/><circle cx="1131.7" cy="545.1" r="3.2"/><circle cx="1175.9" cy="553.7" r="3.2"/><circle cx="1197.3" cy="548.3" r="3.2"/>
</g>
<g fill="#7c68e8" fill-opacity="0.58" stroke="#7c68e8" stroke-opacity="0.45" stroke-width="0.7">
<circle cx="797.3" cy="351.9" r="3.2"/><circle cx="879.8" cy="357.2" r="3.2"/><circle cx="892.6" cy="356.2" r="3.2"/><circle cx="834.7" cy="370.4" r="3.2"/><circle cx="766.8" cy="379.2" r="3.2"/><circle cx="800.1" cy="384.2" r="3.2"/><circle cx="805.6" cy="390.4" r="3.2"/><circle cx="814.5" cy="392.7" r="3.2"/><circle cx="791.6" cy="397.2" r="3.2"/><circle cx="864.3" cy="384.1" r="3.2"/><circle cx="859.3" cy="397.6" r="3.2"/><circle cx="880.9" cy="366.2" r="3.2"/><circle cx="879.3" cy="374.7" r="3.2"/><circle cx="764.6" cy="406.8" r="3.2"/><circle cx="785.4" cy="414.2" r="3.2"/><circle cx="827.3" cy="413.2" r="3.2"/><circle cx="845.4" cy="417.0" r="3.2"/><circle cx="928.5" cy="358.3" r="3.2"/><circle cx="946.6" cy="362.2" r="3.2"/><circle cx="1021.4" cy="361.0" r="3.2"/><circle cx="1044.9" cy="364.1" r="3.2"/><circle cx="1006.8" cy="368.0" r="3.2"/><circle cx="904.8" cy="383.7" r="3.2"/><circle cx="1041.4" cy="375.6" r="3.2"/><circle cx="1017.6" cy="396.3" r="3.2"/><circle cx="968.2" cy="384.7" r="3.2"/><circle cx="950.7" cy="389.7" r="3.2"/><circle cx="944.5" cy="388.5" r="3.2"/><circle cx="932.4" cy="389.2" r="3.2"/><circle cx="941.5" cy="399.3" r="3.2"/><circle cx="992.6" cy="406.4" r="3.2"/><circle cx="974.6" cy="410.0" r="3.2"/><circle cx="1009.9" cy="414.9" r="3.2"/><circle cx="930.4" cy="417.9" r="3.2"/><circle cx="1083.6" cy="356.6" r="3.2"/><circle cx="1070.5" cy="376.0" r="3.2"/><circle cx="1134.9" cy="350.0" r="3.2"/><circle cx="1160.2" cy="360.4" r="3.2"/><circle cx="1174.6" cy="356.6" r="3.2"/><circle cx="1183.9" cy="379.2" r="3.2"/><circle cx="1219.7" cy="395.6" r="3.2"/><circle cx="1123.7" cy="384.0" r="3.2"/><circle cx="1102.3" cy="391.4" r="3.2"/><circle cx="1075.0" cy="408.1" r="3.2"/><circle cx="1140.1" cy="405.2" r="3.2"/><circle cx="1213.0" cy="410.6" r="3.2"/><circle cx="815.5" cy="421.3" r="3.2"/><circle cx="842.4" cy="444.7" r="3.2"/><circle cx="767.5" cy="458.2" r="3.2"/><circle cx="803.7" cy="450.5" r="3.2"/><circle cx="885.0" cy="462.9" r="3.2"/><circle cx="760.4" cy="490.2" r="3.2"/><circle cx="805.9" cy="483.2" r="3.2"/><circle cx="834.1" cy="483.2" r="3.2"/><circle cx="885.7" cy="472.8" r="3.2"/><circle cx="880.5" cy="482.8" r="3.2"/><circle cx="875.1" cy="493.7" r="3.2"/><circle cx="900.7" cy="490.5" r="3.2"/><circle cx="942.6" cy="426.0" r="3.2"/><circle cx="1058.6" cy="427.4" r="3.2"/><circle cx="1048.1" cy="436.3" r="3.2"/><circle cx="1053.8" cy="449.1" r="3.2"/><circle cx="920.8" cy="453.7" r="3.2"/><circle cx="1040.4" cy="457.4" r="3.2"/><circle cx="929.8" cy="461.9" r="3.2"/><circle cx="997.5" cy="474.8" r="3.2"/><circle cx="995.8" cy="483.0" r="3.2"/><circle cx="1039.7" cy="486.9" r="3.2"/><circle cx="1052.3" cy="486.4" r="3.2"/><circle cx="963.5" cy="485.7" r="3.2"/><circle cx="1107.4" cy="421.5" r="3.2"/><circle cx="1143.8" cy="435.4" r="3.2"/><circle cx="1152.2" cy="422.3" r="3.2"/><circle cx="1162.1" cy="424.2" r="3.2"/><circle cx="1074.3" cy="437.3" r="3.2"/><circle cx="1126.5" cy="448.8" r="3.2"/><circle cx="1149.0" cy="445.4" r="3.2"/><circle cx="1200.5" cy="439.0" r="3.2"/><circle cx="1070.7" cy="466.8" r="3.2"/><circle cx="1144.8" cy="463.8" r="3.2"/><circle cx="1168.2" cy="462.3" r="3.2"/><circle cx="1141.6" cy="475.7" r="3.2"/><circle cx="1093.5" cy="480.2" r="3.2"/><circle cx="1158.0" cy="494.1" r="3.2"/><circle cx="1182.0" cy="483.0" r="3.2"/><circle cx="1182.2" cy="489.8" r="3.2"/><circle cx="1219.7" cy="487.9" r="3.2"/><circle cx="840.5" cy="506.2" r="3.2"/><circle cx="843.7" cy="515.9" r="3.2"/><circle cx="812.7" cy="518.8" r="3.2"/><circle cx="867.4" cy="520.3" r="3.2"/><circle cx="755.0" cy="530.0" r="3.2"/><circle cx="809.4" cy="529.1" r="3.2"/><circle cx="842.7" cy="541.9" r="3.2"/><circle cx="759.4" cy="550.1" r="3.2"/><circle cx="818.5" cy="554.3" r="3.2"/><circle cx="991.7" cy="497.3" r="3.2"/><circle cx="1035.9" cy="520.6" r="3.2"/><circle cx="1065.4" cy="520.3" r="3.2"/><circle cx="965.7" cy="531.2" r="3.2"/><circle cx="978.5" cy="544.0" r="3.2"/><circle cx="997.2" cy="547.9" r="3.2"/><circle cx="997.2" cy="554.3" r="3.2"/><circle cx="1057.7" cy="544.7" r="3.2"/><circle cx="1063.1" cy="552.4" r="3.2"/><circle cx="1095.2" cy="496.0" r="3.2"/><circle cx="1173.4" cy="500.1" r="3.2"/><circle cx="1089.7" cy="506.0" r="3.2"/><circle cx="1123.7" cy="510.7" r="3.2"/><circle cx="1201.8" cy="509.5" r="3.2"/><circle cx="1216.8" cy="506.9" r="3.2"/><circle cx="1102.5" cy="518.0" r="3.2"/><circle cx="1107.6" cy="520.0" r="3.2"/><circle cx="1109.2" cy="519.1" r="3.2"/><circle cx="1114.4" cy="528.9" r="3.2"/><circle cx="1146.7" cy="530.0" r="3.2"/><circle cx="1082.7" cy="538.7" r="3.2"/><circle cx="1106.0" cy="537.6" r="3.2"/><circle cx="1171.4" cy="540.6" r="3.2"/><circle cx="1179.6" cy="542.8" r="3.2"/>
</g>
<g fill="#3fc0a5" fill-opacity="0.64" stroke="#3fc0a5" stroke-opacity="0.45" stroke-width="0.7">
<circle cx="815.1" cy="355.5" r="3.2"/><circle cx="839.2" cy="364.2" r="3.2"/><circle cx="759.1" cy="376.4" r="3.2"/><circle cx="851.4" cy="375.8" r="3.2"/><circle cx="890.1" cy="371.8" r="3.2"/><circle cx="778.5" cy="407.8" r="3.2"/><circle cx="865.5" cy="405.9" r="3.2"/><circle cx="930.4" cy="354.9" r="3.2"/><circle cx="1051.0" cy="359.0" r="3.2"/><circle cx="996.4" cy="371.3" r="3.2"/><circle cx="928.5" cy="377.3" r="3.2"/><circle cx="1052.8" cy="390.1" r="3.2"/><circle cx="918.0" cy="397.6" r="3.2"/><circle cx="1025.0" cy="418.1" r="3.2"/><circle cx="1119.6" cy="360.7" r="3.2"/><circle cx="1146.5" cy="360.0" r="3.2"/><circle cx="1147.1" cy="367.4" r="3.2"/><circle cx="1186.2" cy="367.3" r="3.2"/><circle cx="1207.6" cy="350.0" r="3.2"/><circle cx="1104.8" cy="391.0" r="3.2"/><circle cx="1097.1" cy="397.2" r="3.2"/><circle cx="1075.6" cy="397.8" r="3.2"/><circle cx="1157.2" cy="401.9" r="3.2"/><circle cx="1199.9" cy="410.0" r="3.2"/><circle cx="1198.4" cy="413.4" r="3.2"/><circle cx="832.8" cy="427.7" r="3.2"/><circle cx="841.4" cy="424.7" r="3.2"/><circle cx="862.5" cy="424.5" r="3.2"/><circle cx="769.4" cy="433.8" r="3.2"/><circle cx="885.7" cy="446.5" r="3.2"/><circle cx="762.3" cy="453.1" r="3.2"/><circle cx="842.4" cy="457.8" r="3.2"/><circle cx="868.0" cy="461.3" r="3.2"/><circle cx="804.0" cy="466.4" r="3.2"/><circle cx="775.5" cy="491.1" r="3.2"/><circle cx="798.6" cy="488.8" r="3.2"/><circle cx="877.0" cy="471.9" r="3.2"/><circle cx="1058.3" cy="444.1" r="3.2"/><circle cx="1050.2" cy="459.3" r="3.2"/><circle cx="1055.4" cy="463.6" r="3.2"/><circle cx="1000.7" cy="456.3" r="3.2"/><circle cx="909.9" cy="464.6" r="3.2"/><circle cx="927.4" cy="470.0" r="3.2"/><circle cx="1109.6" cy="429.6" r="3.2"/><circle cx="1109.9" cy="432.8" r="3.2"/><circle cx="1192.6" cy="421.0" r="3.2"/><circle cx="1192.2" cy="440.5" r="3.2"/><circle cx="1194.1" cy="436.7" r="3.2"/><circle cx="1101.9" cy="454.2" r="3.2"/><circle cx="1134.8" cy="478.0" r="3.2"/><circle cx="771.3" cy="497.3" r="3.2"/><circle cx="884.4" cy="498.6" r="3.2"/><circle cx="881.5" cy="518.0" r="3.2"/><circle cx="882.4" cy="543.4" r="3.2"/><circle cx="997.2" cy="498.6" r="3.2"/><circle cx="935.6" cy="508.4" r="3.2"/><circle cx="980.5" cy="510.1" r="3.2"/><circle cx="1002.6" cy="517.4" r="3.2"/><circle cx="1023.1" cy="517.8" r="3.2"/><circle cx="913.5" cy="527.6" r="3.2"/><circle cx="921.0" cy="530.0" r="3.2"/><circle cx="983.6" cy="531.9" r="3.2"/><circle cx="995.5" cy="530.8" r="3.2"/><circle cx="1130.7" cy="497.0" r="3.2"/><circle cx="1209.5" cy="499.6" r="3.2"/><circle cx="1219.7" cy="535.1" r="3.2"/><circle cx="1090.6" cy="528.7" r="3.2"/><circle cx="1163.1" cy="527.6" r="3.2"/><circle cx="1094.8" cy="536.6" r="3.2"/><circle cx="1180.7" cy="535.3" r="3.2"/><circle cx="1151.5" cy="547.2" r="3.2"/>
</g>
<ellipse cx="805.2" cy="336.9" rx="3.2" ry="6.3" fill="#157275" fill-opacity="0.56"/>
<text x="813.8" y="339.2" font-size="9.1" font-weight="bold" fill="#5d6067" letter-spacing="0.1">Apartment</text>
<ellipse cx="875.3" cy="336.9" rx="3.2" ry="6.3" fill="#d9b46a" fill-opacity="0.62"/>
<text x="883.6" y="339.2" font-size="9.1" font-weight="bold" fill="#5d6067" letter-spacing="0.1">Commercial Space</text>
<ellipse cx="980.5" cy="336.9" rx="3.2" ry="6.3" fill="#ea806c" fill-opacity="0.68"/>
<text x="988.8" y="339.2" font-size="9.1" font-weight="bold" fill="#5d6067" letter-spacing="0.1">Plot</text>
<ellipse cx="1018.9" cy="336.9" rx="3.2" ry="6.3" fill="#7c68e8" fill-opacity="0.62"/>
<text x="1027.5" y="339.2" font-size="9.1" font-weight="bold" fill="#5d6067" letter-spacing="0.1">Studio</text>
<ellipse cx="1069.3" cy="336.9" rx="3.2" ry="6.3" fill="#3fc0a5" fill-opacity="0.68"/>
<text x="1077.9" y="339.2" font-size="9.1" font-weight="bold" fill="#5d6067" letter-spacing="0.1">Villa</text>
</svg>
<!--/SCATTER-->
</div>
</body>
</html>
